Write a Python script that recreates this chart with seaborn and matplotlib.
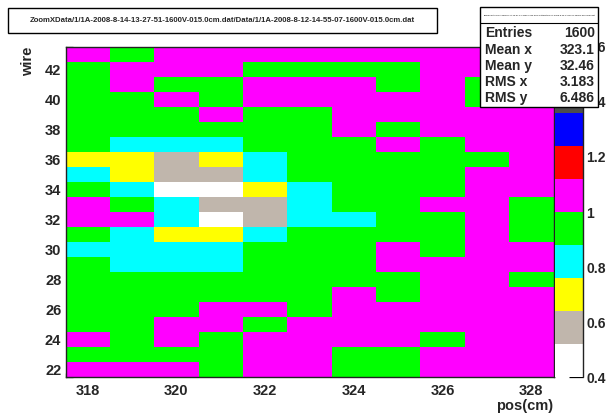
import numpy as np
import pandas as pd
import matplotlib
matplotlib.use("Agg")
import matplotlib.pyplot as plt
from matplotlib.colors import ListedColormap, BoundaryNorm
from matplotlib.ticker import FixedLocator
from matplotlib.patches import Rectangle
from matplotlib.lines import Line2D
import seaborn as sns

# ---------------- data ----------------
pos_cm = [318, 319, 320, 321, 322, 323, 324, 325, 326, 327, 328]
wires = [43, 42, 41, 40, 39, 38, 37, 36, 35, 34, 33, 32, 31, 30, 29, 28, 27, 26, 25, 24, 23, 22]

# one list per wire (top to bottom), one value per pos bin
ratio_rows = [
    [1.07, 0.95, 1.06, 1.08, 1.05, 1.07, 1.06, 1.05, 1.08, 1.06, 1.07],  # 43
    [0.94, 1.06, 1.07, 1.05, 0.96, 0.93, 0.95, 0.97, 1.06, 1.07, 1.06],  # 42
    [0.95, 1.05, 0.93, 0.96, 1.06, 1.08, 1.05, 0.94, 1.07, 0.95, 1.06],  # 41
    [0.93, 0.96, 1.07, 0.94, 1.05, 1.06, 1.08, 1.06, 1.05, 0.96, 1.07],  # 40
    [0.96, 0.94, 0.95, 1.06, 0.93, 0.97, 1.05, 1.07, 1.06, 1.08, 1.05],  # 39
    [0.94, 0.95, 0.97, 0.93, 0.96, 0.94, 1.06, 0.95, 1.07, 1.06, 1.05],  # 38
    [0.95, 0.83, 0.81, 0.84, 0.94, 0.96, 0.93, 1.06, 0.95, 1.07, 1.06],  # 37
    [0.71, 0.69, 0.58, 0.72, 0.82, 0.94, 0.96, 0.95, 0.93, 0.97, 1.05],  # 36
    [0.83, 0.70, 0.57, 0.59, 0.81, 0.95, 0.93, 0.96, 0.94, 1.06, 1.07],  # 35
    [0.94, 0.82, 0.46, 0.47, 0.70, 0.83, 0.95, 0.94, 0.96, 1.07, 1.05],  # 34
    [1.06, 0.95, 0.81, 0.58, 0.60, 0.82, 0.94, 0.96, 1.05, 1.07, 0.95],  # 33
    [1.05, 1.07, 0.82, 0.45, 0.59, 0.83, 0.81, 0.94, 0.95, 1.06, 0.94],  # 32
    [0.96, 0.83, 0.71, 0.69, 0.82, 0.95, 0.93, 0.96, 0.94, 1.05, 0.95],  # 31
    [0.82, 0.81, 0.84, 0.83, 0.94, 0.96, 0.95, 1.06, 0.94, 1.07, 1.05],  # 30
    [0.93, 0.82, 0.83, 0.81, 0.95, 0.94, 0.96, 1.05, 1.07, 1.06, 1.08],  # 29
    [0.95, 0.94, 0.96, 0.93, 0.95, 0.97, 0.94, 0.96, 1.06, 1.05, 0.94],  # 28
    [0.94, 0.96, 0.95, 0.94, 0.93, 0.95, 1.06, 0.95, 1.07, 1.05, 1.06],  # 27
    [0.96, 0.93, 0.95, 1.06, 1.05, 0.94, 1.07, 1.06, 1.05, 1.08, 1.06],  # 26
    [0.95, 0.94, 1.07, 1.05, 0.96, 1.06, 1.05, 1.07, 1.06, 1.05, 1.07],  # 25
    [1.06, 0.95, 1.05, 0.94, 1.07, 1.06, 1.05, 1.08, 0.95, 1.06, 1.05],  # 24
    [0.94, 0.96, 0.95, 0.93, 1.06, 1.05, 0.94, 0.96, 1.07, 1.05, 1.06],  # 23
    [1.05, 1.07, 1.06, 0.95, 1.06, 1.05, 0.94, 0.95, 1.07, 1.06, 1.05],  # 22
]

level_edges = [0.40, 0.52, 0.64, 0.76, 0.88, 1.00, 1.12, 1.24, 1.36, 1.48, 1.60]
level_colors = ["#ffffff", "#c0b6ac", "#ffff00", "#00ffff", "#00ff00",
                "#ff00ff", "#ff0000", "#0000ff", "#4d4d4d", "#1a1a1a"]
cbar_ticks = [0.4, 0.6, 0.8, 1.0, 1.2, 1.4, 1.6]
cbar_labels = ["0.4", "0.6", "0.8", "1", "1.2", "1.4", "1.6"]
x_tick_values = [318, 320, 322, 324, 326, 328]
y_tick_values = [22, 24, 26, 28, 30, 32, 34, 36, 38, 40, 42]

title_text = "ZoomXData/1/1A-2008-8-14-13-27-51-1600V-015.0cm.dat/Data/1/1A-2008-8-12-14-55-07-1600V-015.0cm.dat"
stats_labels = ["Entries", "Mean x", "Mean y", "RMS x", "RMS y"]
stats_values = ["1600", "323.1", "32.46", "3.183", "6.486"]
x_title = "pos(cm)"
y_title = "wire"

# ---------------- style ----------------
sns.set_style("white")
plt.rcParams["font.family"] = ["Liberation Sans", "DejaVu Sans"]
plt.rcParams["font.weight"] = "bold"

W, H = 606, 413
fig = plt.figure(figsize=(W / 100, H / 100), dpi=100)


def fr(x0, y0, x1, y1):
    return [x0 / W, 1 - y1 / H, (x1 - x0) / W, (y1 - y0) / H]


ax = fig.add_axes(fr(65.5, 46.7, 553.5, 377.3))
cax = fig.add_axes(fr(555, 46.7, 583, 377.3))

df = pd.DataFrame(ratio_rows, index=wires, columns=pos_cm)
cmap = ListedColormap(level_colors)
norm = BoundaryNorm(level_edges, cmap.N)

sns.heatmap(df, ax=ax, cmap=cmap, norm=norm, cbar=True, cbar_ax=cax,
            xticklabels=False, yticklabels=False)

# ---- axes ticks mapped from values to heatmap cell coordinates ----
x0 = pos_cm[0]
y0 = wires[0]
ax.xaxis.set_major_locator(FixedLocator([v - x0 + 0.5 for v in x_tick_values]))
ax.xaxis.set_minor_locator(FixedLocator(list(np.arange(0, len(pos_cm) + 0.01, 0.5))))
ax.set_xticklabels([str(v) for v in x_tick_values], fontweight="bold", rotation=0)
ax.yaxis.set_major_locator(FixedLocator([y0 - v + 0.5 for v in y_tick_values]))
ax.yaxis.set_minor_locator(FixedLocator(list(np.arange(0, len(wires) + 0.01, 0.5))))
ax.set_yticklabels([str(v) for v in y_tick_values], fontweight="bold", rotation=0)

ax.tick_params(axis="x", which="major", direction="in", length=6.5, width=0.9,
               labelsize=10.5, pad=5, bottom=True, top=False, color="black")
ax.tick_params(axis="x", which="minor", direction="in", length=3.2, width=0.9,
               bottom=True, top=False, color="black")
ax.tick_params(axis="y", which="major", direction="in", length=10, width=0.9,
               labelsize=10.5, pad=3, left=True, right=False, color="black")
ax.tick_params(axis="y", which="minor", direction="in", length=5, width=0.9,
               left=True, right=False, color="black")
ax.set_xlabel("")
ax.set_ylabel("")
for s in ax.spines.values():
    s.set_visible(True)
    s.set_linewidth(1.0)
    s.set_color("#222222")

# ---- colorbar ----
cbar = ax.collections[0].colorbar
cbar.outline.set_visible(False)
cbar.set_ticks(cbar_ticks)
cbar.set_ticklabels(cbar_labels)
cax.yaxis.set_minor_locator(FixedLocator([]))
cax.tick_params(axis="y", which="major", direction="in", length=10, width=0.9,
                right=True, left=False, labelright=True, labelleft=False,
                labelsize=10, pad=2.5, color="black")
for lab in cax.get_yticklabels():
    lab.set_fontweight("bold")
cax.add_line(Line2D([1, 1], [0, 1], transform=cax.transAxes, color="#222222",
                    lw=1.0, clip_on=False))

# ---- axis titles ----
fig.text(553 / W, 1 - 406 / H, x_title, ha="right", va="center",
         fontsize=10.5, fontweight="bold")
fig.text(28 / W, 1 - 47 / H, y_title, ha="center", va="top", rotation=90,
         fontsize=10.5, fontweight="bold")

# ---- title box ----
fig.add_artist(Rectangle((8 / W, 1 - 33 / H), (437 - 8) / W, 25 / H,
                         transform=fig.transFigure, facecolor="white",
                         edgecolor="black", lw=1.0, zorder=5))
fig.text(222.5 / W, 1 - 20.5 / H, title_text, ha="center", va="center",
         fontsize=5.6, fontweight="bold", zorder=6)

# ---- stats box ----
fig.add_artist(Rectangle((480 / W, 1 - 107 / H), (598 - 480) / W, 100 / H,
                         transform=fig.transFigure, facecolor="white",
                         edgecolor="black", lw=1.0, zorder=10))
fig.add_artist(Line2D([480 / W, 598 / W], [1 - 23 / H, 1 - 23 / H],
                      transform=fig.transFigure, color="black", lw=0.8, zorder=11))
fig.text(540 / W, 1 - 15 / H, title_text, ha="center", va="center",
         fontsize=1.6, color="#444444", zorder=11)
row_y = [33, 50, 66, 82, 98]
for lab, val, yy in zip(stats_labels, stats_values, row_y):
    fig.text(485 / W, 1 - yy / H, lab, ha="left", va="center", fontsize=10,
             fontweight="bold", zorder=12)
    fig.text(595 / W, 1 - yy / H, val, ha="right", va="center", fontsize=10,
             fontweight="bold", zorder=12)

fig.savefig("out.png", dpi=100)
